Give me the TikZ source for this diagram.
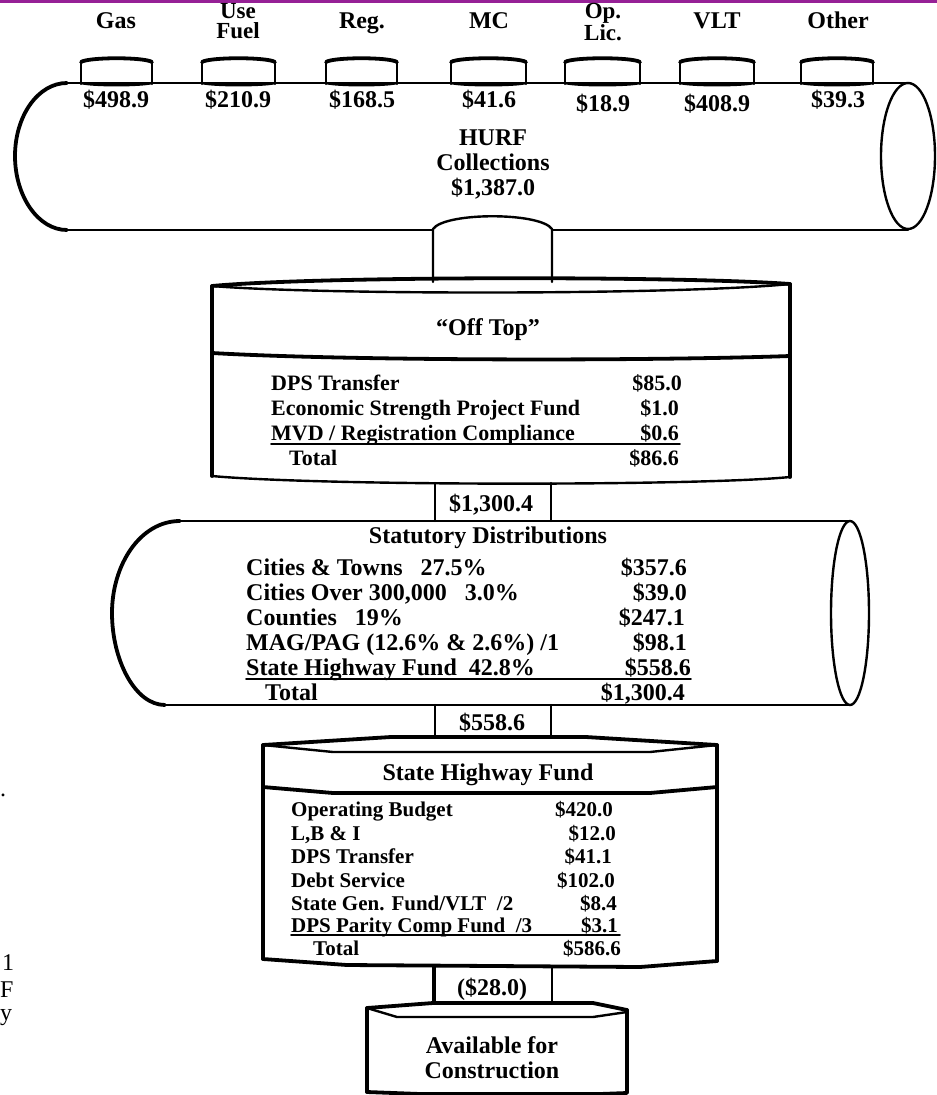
\documentclass[tikz,border=0pt]{standalone}
\usepackage{fontspec}
\setmainfont{Liberation Serif}
\definecolor{barpurple}{RGB}{150,32,150}
\begin{document}
\begin{tikzpicture}[x=1pt,y=-1pt,
  big/.style={font=\bfseries\fontsize{24}{25}\selectfont, inner sep=0pt},
  two/.style={font=\bfseries\fontsize{23}{19.5}\selectfont, inner sep=0pt, align=center},
  mid/.style={font=\bfseries\fontsize{22}{25}\selectfont, inner sep=0pt},
  sml/.style={font=\bfseries\fontsize{21}{23}\selectfont, inner sep=0pt},
  frag/.style={font=\fontsize{24}{27}\selectfont, inner sep=0pt, anchor=base west},
  ln/.style={line width=2.4pt, line join=round, line cap=round},
  hv/.style={line width=3.8pt, line join=round, line cap=round},
  thin/.style={line width=1.6pt, line cap=round}]
\useasboundingbox (0,0) rectangle (937,1095);
\fill[barpurple] (0,0) rectangle (937,3);

% ---------- HURF collections cylinder ----------
\draw[ln] (67,83) -- (908,83);
\draw[hv] (67,83) .. controls (38,83) and (15,116) .. (15,156)
                  .. controls (15,196) and (38,230) .. (67,230);
\draw[ln] (67,230) -- (433,230);
\draw[ln] (552,230) -- (908,230);
\draw[ln] (908,156) ellipse [x radius=27, y radius=73];

% small source cylinders
\foreach \a/\b in {81/152, 202/275, 326/397, 451/526, 565/640, 680/754, 801/873}{
  \draw[ln] (\a,84) -- (\a,62);
  \draw[ln] (\b,84) -- (\b,62);
  \draw[hv] (\a,62) .. controls (\a+8,57) and (\b-8,57) .. (\b,62);
  \draw[ln] (\a,83) .. controls (\a+12,86) and (\b-12,86) .. (\b,83);
}

% source labels
\node[big, anchor=base] (gas)  at (116,28) {Gas};
\node[two, anchor=north] (use) at (238,3.5) {Use\\Fuel};
\node[big, anchor=base] (reg)  at (362,28) {Reg.};
\node[big, anchor=base] (mc)   at (489,28) {MC};
\node[two, anchor=north] (op) at (603,3.5) {Op.\\Lic.};
\node[big, anchor=base] (vlt)  at (717,28) {VLT};
\node[big, anchor=base] (oth)  at (838,28) {Other};

\node[big, anchor=base] (v1) at (116,107) {\$498.9};
\node[big, anchor=base] (v2) at (238,107) {\$210.9};
\node[big, anchor=base] (v3) at (362,107) {\$168.5};
\node[big, anchor=base] (v4) at (489,107) {\$41.6};
\node[big, anchor=base] (v5) at (603,111) {\$18.9};
\node[big, anchor=base] (v6) at (717,111) {\$408.9};
\node[big, anchor=base] (v7) at (838,107) {\$39.3};

\node[big, anchor=base] (hurf1) at (493,145) {HURF};
\node[big, anchor=base] (hurf2) at (493,170) {Collections};
\node[big, anchor=base] (hurf3) at (493,195) {\$1,387.0};

% pipe HURF -> Off Top
\coordinate (p1a) at (433,229);
\coordinate (p1b) at (552,229);
\coordinate (p1c) at (433,282);
\coordinate (p1d) at (552,282);
\draw[ln] (p1c) -- (p1a) .. controls (445,212) and (540,212) .. (p1b) -- (p1d);

% ---------- Off Top box ----------
\draw[hv] (212,286) .. controls (320,276) and (680,276) .. (790,284);
\draw[ln] (212,286) .. controls (320,295) and (680,295) .. (790,284);
\draw[hv] (212,286) -- (212,476);
\draw[hv] (790,284) -- (790,477);
\draw[hv] (212,353) .. controls (350,361) and (650,361) .. (790,356);
\draw[ln] (212,476) .. controls (320,486) and (700,486) .. (790,477);

\node[big, anchor=base] (offtop) at (488,335) {``Off Top''};
\node[mid, anchor=base west] (o1) at (271,390) {DPS Transfer};
\node[mid, anchor=base west] (o2) at (271,415) {Economic Strength Project Fund};
\node[mid, anchor=base west] (o3) at (271,440) {MVD / Registration Compliance};
\node[mid, anchor=base west] (o4) at (289,465) {Total};
\node[mid, anchor=base east] (ov1) at (682,390) {\$85.0};
\node[mid, anchor=base east] (ov2) at (679,415) {\$1.0};
\node[mid, anchor=base east] (ov3) at (679,440) {\$0.6};
\node[mid, anchor=base east] (ov4) at (679,465) {\$86.6};
\draw[thin] (271,444) -- (680,444);

% pipe $1,300.4
\coordinate (p2a) at (435,483);
\coordinate (p2b) at (551,483);
\coordinate (p2c) at (435,521);
\coordinate (p2d) at (551,521);
\draw[ln] (p2a) -- (p2c);
\draw[ln] (p2b) -- (p2d);
\node[big, anchor=base] (flow1) at (491,511) {\$1,300.4};

% ---------- Statutory distributions cylinder ----------
\draw[ln] (180,521) -- (850,521);
\draw[ln] (165,705) -- (850,705);
\draw[hv] (180,521) .. controls (140,521) and (112,565) .. (112,613)
                    .. controls (112,660) and (135,705) .. (165,705);
\draw[ln] (850,613) ellipse [x radius=19, y radius=92];

\node[big, anchor=base] (stat) at (488,543) {Statutory Distributions};
\node[big, anchor=base west] (s1) at (246,575) {Cities \& Towns\ \ \ 27.5\%};
\node[big, anchor=base west] (s2) at (246,600) {Cities Over 300,000\ \ \ 3.0\%};
\node[big, anchor=base west] (s3) at (246,625) {Counties\ \ \ 19\%};
\node[big, anchor=base west] (s4) at (246,650) {MAG/PAG (12.6\% \& 2.6\%) /1};
\node[big, anchor=base west] (s5) at (246,675) {State Highway Fund\ \ 42.8\%};
\node[big, anchor=base west] (s6) at (265,700) {Total};
\node[big, anchor=base east] (sv1) at (687,575) {\$357.6};
\node[big, anchor=base east] (sv2) at (687,600) {\$39.0};
\node[big, anchor=base east] (sv3) at (685,625) {\$247.1};
\node[big, anchor=base east] (sv4) at (687,650) {\$98.1};
\node[big, anchor=base east] (sv5) at (691,675) {\$558.6};
\node[big, anchor=base east] (sv6) at (685,700) {\$1,300.4};
\draw[thin] (246,679) -- (691,679);

% pipe $558.6
\coordinate (p3a) at (435,705);
\coordinate (p3b) at (551,705);
\coordinate (p3c) at (435,737);
\coordinate (p3d) at (551,737);
\draw[ln] (p3a) -- (p3c);
\draw[ln] (p3b) -- (p3d);
\node[big, anchor=base] (flow2) at (492,730) {\$558.6};

% ---------- State Highway Fund box ----------
\draw[hv] (263,745) -- (391,737) -- (586,737) -- (717,745);
\draw[ln] (263,745) -- (333,752) -- (650,752) -- (717,745);
\draw[hv] (263,745) -- (263,959);
\draw[hv] (717,745) -- (717,961);
\draw[hv] (263,787) -- (333,793) -- (650,793) -- (717,787);
\draw[hv] (263,959) -- (347,965) -- (640,967) -- (717,961);

\node[big, anchor=base] (shf) at (488,780) {State Highway Fund};
\node[sml, anchor=base west] (h1) at (291,816) {Operating Budget};
\node[sml, anchor=base west] (h2) at (291,840) {L,B \& I};
\node[sml, anchor=base west] (h3) at (291,863) {DPS Transfer};
\node[sml, anchor=base west] (h4) at (291,887) {Debt Service};
\node[sml, anchor=base west] (h5) at (291,910) {State Gen. Fund/VLT\ \ /2};
\node[sml, anchor=base west] (h6) at (291,932) {DPS Parity Comp Fund\ \ /3};
\node[sml, anchor=base west] (h7) at (313,955) {Total};
\node[sml, anchor=base east] (hv1) at (613,816) {\$420.0};
\node[sml, anchor=base east] (hv2) at (616,840) {\$12.0};
\node[sml, anchor=base east] (hv3) at (612,863) {\$41.1};
\node[sml, anchor=base east] (hv4) at (615,887) {\$102.0};
\node[sml, anchor=base east] (hv5) at (617,910) {\$8.4};
\node[sml, anchor=base east] (hv6) at (618,932) {\$3.1};
\node[sml, anchor=base east] (hv7) at (621,955) {\$586.6};
\draw[thin] (291,935) -- (620,935);

% pipe ($28.0)
\coordinate (p4a) at (434,966);
\coordinate (p4b) at (552,966);
\coordinate (p4c) at (434,1003);
\coordinate (p4d) at (552,1003);
\draw[hv] (p4a) -- (p4c);
\draw[ln] (p4b) -- (p4d);
\node[big, anchor=base] (flow3) at (492,995) {(\$28.0)};

% ---------- Available for Construction ----------
\draw[hv] (367,1008) -- (433,1003) -- (593,1003) -- (627,1010);
\draw[ln] (367,1008) -- (397,1017) -- (593,1017) -- (627,1012);
\draw[hv] (367,1008) -- (367,1092);
\draw[hv] (627,1010) -- (627,1092);
\draw[hv] (367,1092) -- (420,1094) -- (600,1094) -- (627,1093);
\node[big, anchor=base] (av1) at (492,1053) {Available for};
\node[big, anchor=base] (av2) at (492,1078) {Construction};

% ---------- cut-off text at left margin ----------
\node[frag] (f0) at (0,796) {.};
\node[frag] (f1) at (2,970) {1};
\node[frag] (f2) at (0,997) {F};
\node[frag] (f3) at (0,1020) {y};
\end{tikzpicture}
\end{document}
